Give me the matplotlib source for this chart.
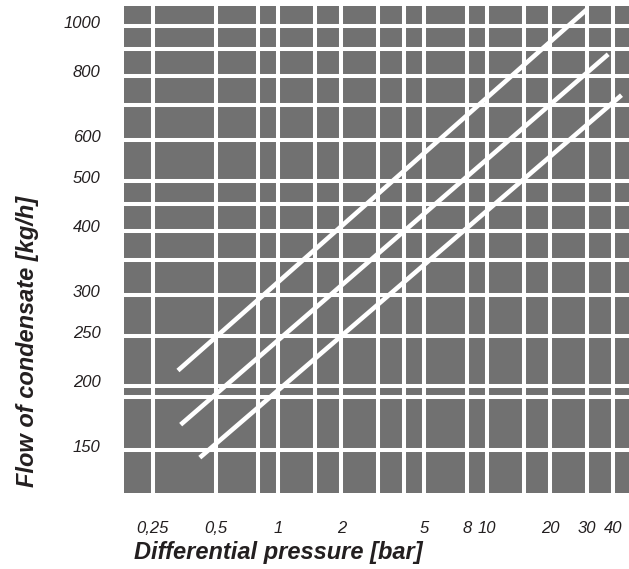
import matplotlib

matplotlib.use("Agg")
import matplotlib.pyplot as plt
import matplotlib.transforms as mtransforms
from matplotlib.ticker import NullLocator

# values (log-log)
pressure_ticks = [0.25, 0.5, 1, 2, 5, 8, 10, 20, 30, 40]
pressure_labels = ["0,25", "0,5", "1", "2", "5", "8", "10", "20", "30", "40"]
pressure_grid = [0.25, 0.5, 0.8, 1, 1.5, 2, 3, 4, 5, 8, 10, 15, 20, 30, 40]

flow_ticks = [150, 200, 250, 300, 400, 500, 600, 800, 1000]
flow_labels = ["150", "200", "250", "300", "400", "500", "600", "800", "1000"]
flow_grid = [150, 190, 200, 250, 300, 350, 400, 450, 500, 600, 700, 800, 900, 1000]

# three characteristic lines, start and end points
line_top_x = [0.33, 30]
line_top_y = [214, 1075]
line_mid_x = [0.34, 38]
line_mid_y = [168, 880]
line_low_x = [0.42, 44]
line_low_y = [145, 733]

BG = "#717171"
TEXT = "#231f20"
FONT = ["Liberation Sans", "DejaVu Sans"]

fig = plt.figure(figsize=(6.29, 5.69), dpi=100)
W, H = 629, 569
left, right, top, bottom = 124, 629, 6, 493.3
ax = fig.add_axes([left / W, 1 - bottom / H, (right - left) / W, (bottom - top) / H])

ax.set_xscale("log")
ax.set_yscale("log")
ax.set_xlim(0.182, 47.8)
ax.set_ylim(123.6, 1092)
ax.set_facecolor(BG)
for spine in ax.spines.values():
    spine.set_visible(False)

# white grid
for gx in pressure_grid:
    ax.axvline(gx, color="white", linewidth=2.9, zorder=1)
for gy in flow_grid:
    ax.axhline(gy, color="white", linewidth=2.9, zorder=1)

ax.xaxis.set_minor_locator(NullLocator())
ax.yaxis.set_minor_locator(NullLocator())
ax.set_xticks(pressure_ticks)
ax.set_xticklabels(pressure_labels)
ax.set_yticks(flow_ticks)
ax.set_yticklabels(flow_labels)
ax.tick_params(which="both", length=0)
ax.tick_params(axis="x", pad=20)
ax.tick_params(axis="y", pad=17)

for lbl in ax.get_xticklabels() + ax.get_yticklabels():
    lbl.set_family(FONT)
    lbl.set_style("italic")
    lbl.set_fontsize(12)
    lbl.set_color(TEXT)

shift = mtransforms.ScaledTranslation(0, 3 / 72, fig.dpi_scale_trans)
for lbl in ax.get_yticklabels():
    lbl.set_transform(lbl.get_transform() + shift)

for xs, ys in [(line_top_x, line_top_y), (line_mid_x, line_mid_y), (line_low_x, line_low_y)]:
    ax.plot(xs, ys, color="white", linewidth=3.3, solid_capstyle="butt", zorder=3)

ax.set_xlabel("Differential pressure [bar]", family=FONT, fontsize=17,
              fontweight="bold", style="italic", color=TEXT, va="center", ha="center")
ax.xaxis.set_label_coords(0.305, -0.1225)
ax.set_ylabel("Flow of condensate [kg/h]", family=FONT, fontsize=17,
              fontweight="bold", style="italic", color=TEXT, va="center", ha="center")
ax.yaxis.set_label_coords(-0.192, 0.3115)

fig.savefig("out.png", dpi=100)
